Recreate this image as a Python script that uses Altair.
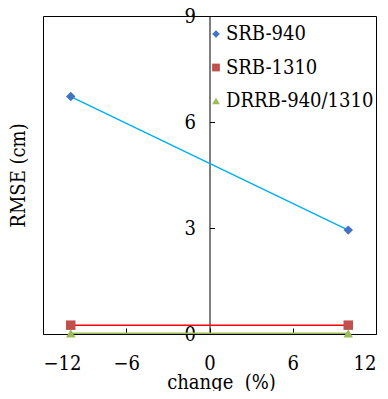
import altair as alt
import pandas as pd

series = ["SRB-940", "SRB-1310", "DRRB-940/1310"]
x_change = [-10, 10]
srb940 = [6.72, 2.94]
srb1310 = [0.25, 0.25]
drrb = [0.02, 0.02]
x_ticks = [-12, -6, 0, 6, 12]
y_ticks = [0, 3, 6, 9]
marker_colors = ["#4472C4", "#C0504D", "#9BBB59"]
line_colors = ["#00B0F0", "#FF0000", "#9BBB59"]
shapes = ["diamond", "square", "triangle-up"]

rows = []
for name, vals in zip(series, [srb940, srb1310, drrb]):
    for x, v in zip(x_change, vals):
        rows.append({"series": name, "change": x, "rmse": v})
df = pd.DataFrame(rows)

W, H = 333, 318
FONT = "DejaVu Serif Condensed, DejaVu Serif"

xs = alt.Scale(domain=[-12, 12], nice=False, zero=False)
ys = alt.Scale(domain=[0, 9], nice=False, zero=False)

base = alt.Chart(df)

lines = base.mark_line(strokeWidth=1.5).encode(
    x=alt.X("change:Q", scale=xs,
            axis=alt.Axis(orient="bottom", values=x_ticks, title="change\u00a0 (%)",
                          ticks=False, tickSize=0, domain=False, grid=False,
                          labelPadding=19, titlePadding=-1, titleX=178,
                          labelFont=FONT, titleFont=FONT)),
    y=alt.Y("rmse:Q", scale=ys,
            axis=alt.Axis(orient="left", labels=False, ticks=False, tickSize=0,
                          domain=False, grid=False, title="RMSE (cm)", titlePadding=15,
                          titleFont=FONT)),
    color=alt.Color("series:N", scale=alt.Scale(domain=series, range=line_colors), legend=None),
    detail="series:N",
)

leg = alt.Legend(title=None, orient="none", legendX=163, legendY=8, symbolSize=60,
                 labelFontSize=20, labelFont=FONT, labelColor="black", labelLimit=0,
                 rowPadding=13.5, labelOffset=0)

points = base.mark_point(filled=True, size=90, opacity=1).encode(
    x=alt.X("change:Q", scale=xs,
            axis=alt.Axis(orient="top", offset=-H, values=x_ticks, labels=False,
                          domain=False, ticks=True, tickSize=6, tickColor="black",
                          title=None, grid=False)),
    y=alt.Y("rmse:Q", scale=ys,
            axis=alt.Axis(orient="left", offset=-W / 2, values=y_ticks, labels=True,
                          ticks=False, tickSize=0, domain=True, domainColor="black",
                          labelPadding=14, title=None, grid=False, labelFont=FONT)),
    color=alt.Color("series:N", scale=alt.Scale(domain=series, range=marker_colors), legend=leg),
    shape=alt.Shape("series:N", scale=alt.Scale(domain=series, range=shapes), legend=leg),
)

rticks = base.mark_point(opacity=0).encode(
    x=alt.X("change:Q", scale=xs, axis=None),
    y=alt.Y("rmse:Q", scale=ys,
            axis=alt.Axis(orient="right", offset=-W / 2, values=y_ticks, labels=False,
                          domain=False, ticks=True, tickSize=5, tickColor="black",
                          title=None, grid=False)),
)

chart = alt.layer(lines, points, rticks).resolve_scale(
    color="independent", shape="independent"
).resolve_axis(x="independent", y="independent").properties(
    width=W, height=H,
    autosize=alt.AutoSizeParams(type="none"),
    padding={"left": 35, "top": 8, "right": 4, "bottom": 57},
).configure_view(
    stroke="black", strokeWidth=1
).configure_axis(
    labelFont=FONT, titleFont=FONT, labelFontSize=20, titleFontSize=20,
    labelColor="black", titleColor="black", titleFontWeight="normal",
    domainWidth=1, tickWidth=1,
).configure_legend(
    labelFont=FONT
)

chart.save("out.html", embed_options={"renderer": "svg", "actions": False})
